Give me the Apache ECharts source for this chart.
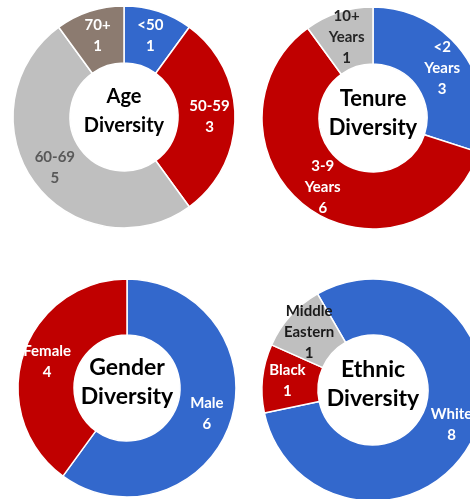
<!DOCTYPE html>
<html>
<head>
<meta charset="utf-8">
<script src="https://cdn.jsdelivr.net/npm/echarts@6/dist/echarts.min.js"></script>
<style>
  html, body { margin: 0; padding: 0; background: #fff; }
  #main { width: 470px; height: 499px; }
</style>
</head>
<body>
<div id="main"></div>
<script>
// data
var ageCategories = ['<50', '50-59', '60-69', '70+'];
var ageValues = [1, 3, 5, 1];
var tenureCategories = ['<2\nYears', '3-9\nYears', '10+\nYears'];
var tenureValues = [3, 6, 1];
var genderCategories = ['Male', 'Female'];
var genderValues = [6, 4];
var ethnicCategories = ['White', 'Black', 'Middle\nEastern'];
var ethnicValues = [8, 1, 1];

var BLUE = '#3368CC', RED = '#C00000', GREY = '#BFBFBF', BROWN = '#8C7B70';
var FONT = 'Lato';

function toData(cats, vals, colors, labelColors) {
    return cats.map(function (c, i) {
        return {
            name: c, value: vals[i],
            itemStyle: { color: colors[i] },
            label: { color: labelColors[i] }
        };
    });
}

function donut(center, radius, startAngle, data) {
    return {
        type: 'pie',
        center: center,
        radius: radius,
        startAngle: startAngle,
        clockwise: true,
        silent: true,
        avoidLabelOverlap: false,
        labelLayout: { hideOverlap: false },
        labelLine: { show: false },
        itemStyle: { borderColor: '#fff', borderWidth: 1.5 },
        label: {
            show: true,
            position: 'inside',
            formatter: '{b}\n{c}',
            fontFamily: FONT,
            fontWeight: 'bold',
            fontSize: 15,
            lineHeight: 21,
            overflow: 'none'
        },
        data: data
    };
}

function centerText(x, y, text, size) {
    return {
        type: 'text',
        x: x, y: y,
        style: {
            text: text,
            align: 'center',
            verticalAlign: 'middle',
            fontFamily: FONT,
            fontWeight: 'bold',
            fontSize: size,
            lineHeight: 29,
            fill: '#000'
        }
    };
}

var chart = echarts.init(document.getElementById('main'));
chart.setOption({
    animation: false,
    backgroundColor: '#fff',
    series: [
        donut([124, 117], [54, 111], 90,
            toData(ageCategories, ageValues, [BLUE, RED, GREY, BROWN], ['#fff', '#fff', '#595959', '#fff'])),
        donut([373, 118], [54, 111], 90,
            toData(tenureCategories, tenureValues, [BLUE, RED, GREY], ['#fff', '#fff', '#262626'])),
        donut([127, 388], [53, 109], 90,
            toData(genderCategories, genderValues, [BLUE, RED], ['#fff', '#fff'])),
        donut([373, 390], [55, 111], 120,
            toData(ethnicCategories, ethnicValues, [BLUE, RED, GREY], ['#fff', '#fff', '#1a1a1a']))
    ],
    graphic: [
        centerText(124, 111, 'Age\nDiversity', 20),
        centerText(373, 113, 'Tenure\nDiversity', 22),
        centerText(127, 382, 'Gender\nDiversity', 23),
        centerText(373, 384, 'Ethnic\nDiversity', 23)
    ]
});
</script>
</body>
</html>
